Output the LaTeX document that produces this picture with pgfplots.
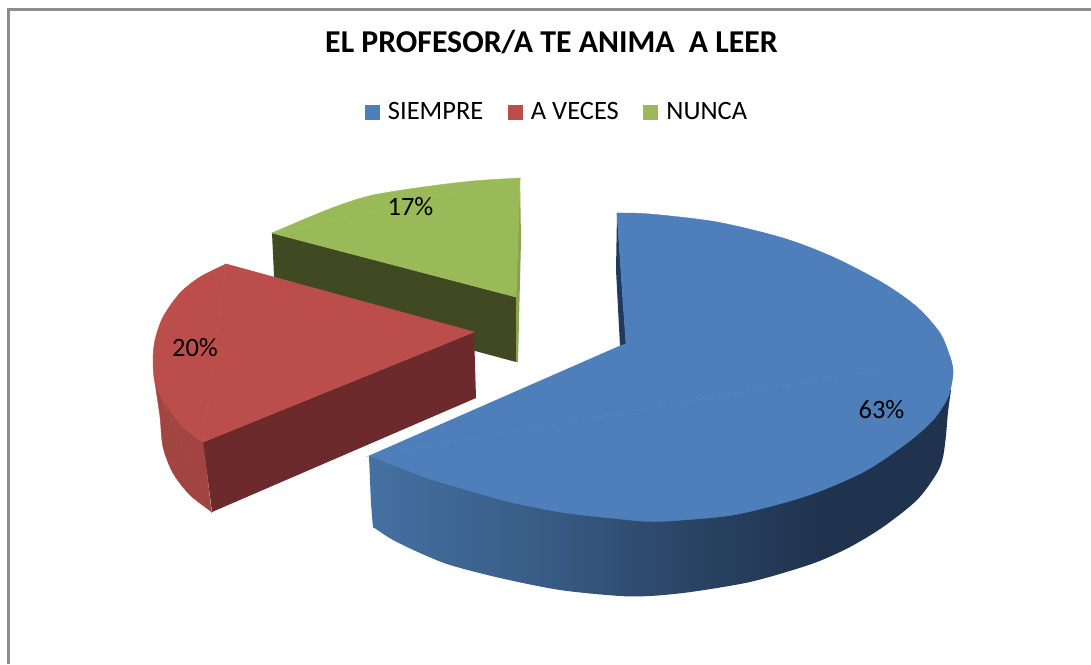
\documentclass[border=0pt]{standalone}
\usepackage{pgfplots}
\pgfplotsset{compat=1.18}
\usepackage{fontspec}
\setmainfont{Carlito}
\definecolor{bluetop}{HTML}{4E7FBA}
\definecolor{bluedark}{HTML}{1F3A5C}
\definecolor{redtop}{HTML}{BB4E4B}
\definecolor{redface}{HTML}{6D2A2C}
\definecolor{redside}{HTML}{A24541}
\definecolor{greentop}{HTML}{9ABA59}
\definecolor{greenface}{HTML}{404921}
\definecolor{greenside}{HTML}{86A34D}
\definecolor{frameline}{HTML}{8C8C8C}
% side of the blue slice: light on the left, dark from about x=820
\pgfdeclarehorizontalshading{blueside}{100bp}{
  rgb(0bp)=(0.27,0.44,0.63);
  rgb(25bp)=(0.27,0.44,0.63);
  rgb(40bp)=(0.22,0.36,0.52);
  rgb(52bp)=(0.17,0.27,0.40);
  rgb(64bp)=(0.12,0.20,0.31);
  rgb(75bp)=(0.12,0.20,0.31);
  rgb(100bp)=(0.12,0.20,0.31)}
\begin{document}
\begin{tikzpicture}
\path[use as bounding box] (0,0) rectangle (1091pt,664pt);
\begin{axis}[
  scale only axis, width=1091pt, height=664pt,
  xmin=0, xmax=1091, ymin=0, ymax=664, y dir=reverse,
  axis lines=none,
  title={\fontsize{31.8}{36}\selectfont\bfseries EL PROFESOR/A TE ANIMA\ \ A LEER},
  title style={at={(axis cs:551.5,58)},anchor=base,inner sep=0pt,yshift=0pt},
  legend style={at={(axis cs:557,112)},anchor=center,draw=none,fill=none,
    legend columns=3,font=\fontsize{26.5}{30}\selectfont,
    /tikz/every even column/.append style={column sep=22.5pt},
    /tikz/every odd column/.append style={column sep=6pt}},
  legend image code/.code={\path[draw=none,fill=#1] (0pt,-7.5pt) rectangle (15pt,7.5pt);},
]
% frame
\addplot[frameline,line width=2.5pt,forget plot] coordinates {(8.5,664)(8.5,9.5)(1091,9.5)};

% NUNCA 17%
\addplot[fill=greenface,draw=none,forget plot] coordinates {(272,233)(516,297)(516,362)(275,297)} -- cycle;
\addplot[fill=greenside,draw=none,forget plot] coordinates {(520,178)(521,240)(518,362)(516,362)(516,297)} -- cycle;

% A VECES 20%
\addplot[fill=redside,draw=redside,line width=0.4pt,smooth,forget plot] coordinates {(155,383)(160,417)(163,447)(173,473)(190,495)(212,512)};
\addplot[fill=redside,draw=redside,line width=0.8pt,forget plot] coordinates {(156,384)(211,511)(203,442)(183,427)} -- cycle;
\addplot[fill=redface,draw=none,forget plot] coordinates {(203,442)(474,332)(476,398)(212,512)} -- cycle;

% SIEMPRE 63%
\addplot[shading=blueside,draw=none,smooth,forget plot] coordinates {
  (369,456)(370,480)(371,503)(373,527)(374.5,528)(393,540)(420,553)(450,565)(500,578)(560,590)(620,596)(650,596)
  (683,593)(717,588)(750,582)(783,573)(817,562)(850,547)(883,527)(917,500)(937,473)(943,457)(946,435)(948,412)(951,390)};
\addplot[fill=bluedark,draw=none,forget plot] coordinates {(617,213)(616,270)(620,346)(626,344)} -- cycle;
\addplot[fill=bluetop,draw=bluetop,line width=0.4pt,smooth,forget plot] coordinates {
  (617,213)(650,214)(717,222)(783,238)(833,257)(883,283)(917,307)(940,333)(950,357)(953,373)(948,397)};
\addplot[fill=bluetop,draw=bluetop,line width=0.4pt,smooth] coordinates {
  (950,357)(953,373)(948,397)(933,420)(907,443)(867,470)
  (823,490)(783,503)(733,515)(683,520)(650,521.5)(610,518)(560,512)(510,502)(460,488)(427,478)(393,465)(369,456)};
\addlegendentry{SIEMPRE}
\addplot[fill=bluetop,draw=bluetop,line width=0.6pt,forget plot] coordinates {(369,456)(620,346)(626,344)(617,213)(950,357)} -- cycle;

\addplot[fill=redtop,draw=redtop,line width=0.4pt,smooth] coordinates {
  (226,264)(200,277)(180,293)(163,317)(155,340)(153,360)(155,383)(165,403)(183,427)(203,442)};
\addlegendentry{A VECES}
\addplot[fill=redtop,draw=redtop,line width=0.6pt,forget plot] coordinates {(226,264)(474,332)(203,442)} -- cycle;

\addplot[fill=greentop,draw=greentop,line width=0.4pt,smooth] coordinates {
  (272,233)(307,218)(340,205)(373,195)(423,187)(473,181)(520,178)};
\addlegendentry{NUNCA}
\addplot[fill=greentop,draw=greentop,line width=0.6pt,forget plot] coordinates {(272,233)(520,178)(516,297)} -- cycle;

% data labels
\node[font=\fontsize{26.5}{30}\selectfont,anchor=base,inner sep=0pt] at (axis cs:410.5,215) {17\%};
\node[font=\fontsize{26.5}{30}\selectfont,anchor=base,inner sep=0pt] at (axis cs:195,356) {20\%};
\node[font=\fontsize{26.5}{30}\selectfont,anchor=base,inner sep=0pt] at (axis cs:881.5,418) {63\%};
\end{axis}
\end{tikzpicture}
\end{document}
